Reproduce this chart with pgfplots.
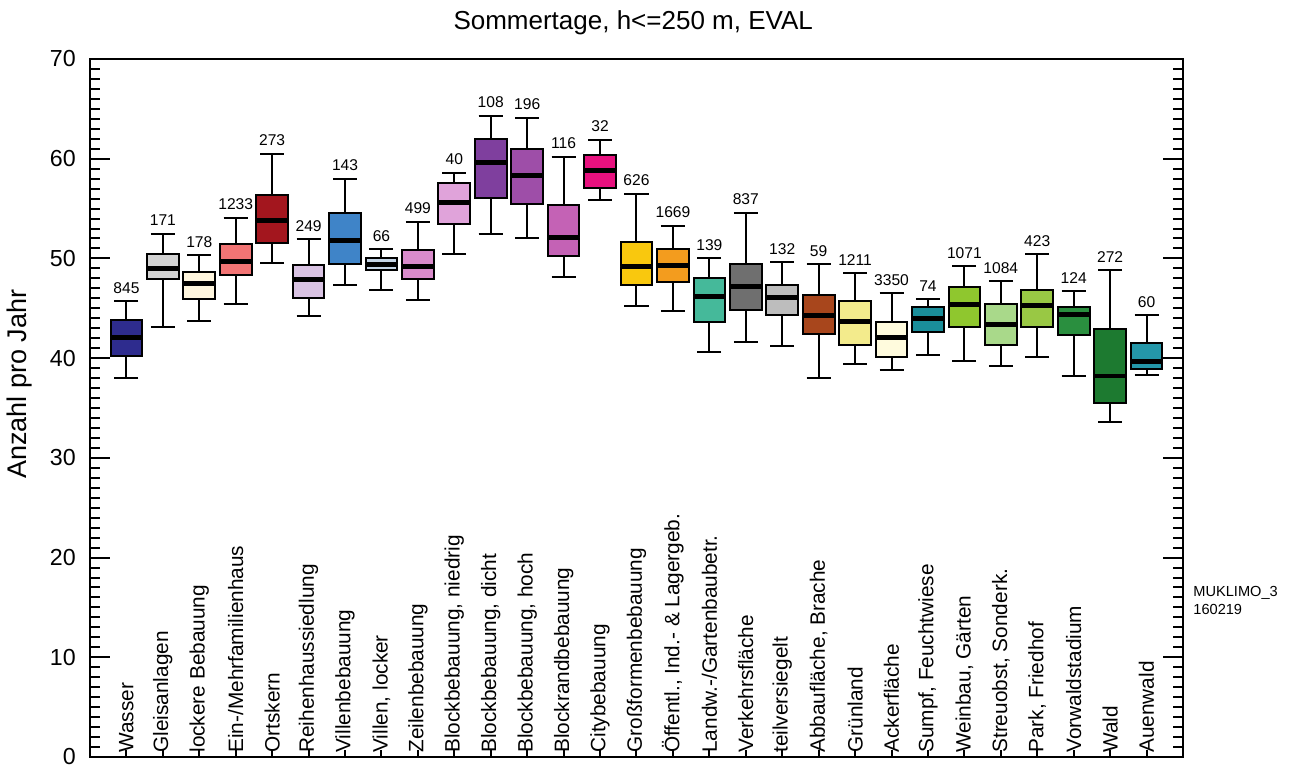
\documentclass[border=0pt]{standalone}
\usepackage{pgfplots}
\pgfplotsset{compat=1.18}
\usepgfplotslibrary{statistics}
\usepackage{pgfplotstable}
\usepackage{fontspec}
\setmainfont{Liberation Sans}

\definecolor{c0}{HTML}{2E2C8E}
\definecolor{c1}{HTML}{D3D3D3}
\definecolor{c2}{HTML}{FFF6DE}
\definecolor{c3}{HTML}{F27474}
\definecolor{c4}{HTML}{A3161E}
\definecolor{c5}{HTML}{D9C3E3}
\definecolor{c6}{HTML}{3F84C8}
\definecolor{c7}{HTML}{C5D5E6}
\definecolor{c8}{HTML}{D98BCB}
\definecolor{c9}{HTML}{E0A3DA}
\definecolor{c10}{HTML}{7F3F9E}
\definecolor{c11}{HTML}{9E4EA8}
\definecolor{c12}{HTML}{C462B5}
\definecolor{c13}{HTML}{E8117F}
\definecolor{c14}{HTML}{F9C80E}
\definecolor{c15}{HTML}{F39C1E}
\definecolor{c16}{HTML}{45B99A}
\definecolor{c17}{HTML}{6F6F6F}
\definecolor{c18}{HTML}{BDBDBD}
\definecolor{c19}{HTML}{A8461C}
\definecolor{c20}{HTML}{F3EB8C}
\definecolor{c21}{HTML}{FFFBDD}
\definecolor{c22}{HTML}{1A8E9A}
\definecolor{c23}{HTML}{8FC72E}
\definecolor{c24}{HTML}{A9D98A}
\definecolor{c25}{HTML}{99C844}
\definecolor{c26}{HTML}{2A8F3F}
\definecolor{c27}{HTML}{1D7A30}
\definecolor{c28}{HTML}{2497A9}

% count labels above the upper whiskers
\pgfplotstableread{
x top n
0 45.7 845
1 52.5 171
2 50.3 178
3 54.1 1233
4 60.5 273
5 51.9 249
6 58.0 143
7 50.9 66
8 53.7 499
9 58.6 40
10 64.3 108
11 64.1 196
12 60.2 116
13 61.9 32
14 56.5 626
15 53.3 1669
16 50.0 139
17 54.6 837
18 49.6 132
19 49.4 59
20 48.5 1211
21 46.5 3350
22 45.9 74
23 49.2 1071
24 47.7 1084
25 50.4 423
26 46.7 124
27 48.8 272
28 44.3 60
}\counts

\pgfplotsset{
  bp/.style n args={6}{boxplot prepared={draw position=#1, lower whisker=#2,
    lower quartile=#3, median=#4, upper quartile=#5, upper whisker=#6}},
}

\begin{document}
\begin{tikzpicture}
\begin{axis}[
  scale only axis,
  width=546.5pt, height=349pt,
  xmin=-1, xmax=29, ymin=0, ymax=70,
  axis line style={line width=1pt},
  tick align=inside,
  ytick={0,10,...,70},
  minor y tick num=9,
  ytick pos=both,
  yticklabel pos=left,
  major tick length=10pt,
  minor tick length=5pt,
  every tick/.style={black, line width=1pt},
  /pgf/number format/assume math mode=true,
  yticklabel style={font=\fontsize{11.6}{12}\selectfont, xshift=-3.6pt},
  xtick={0,...,28},
  xtick pos=left,
  xtick style={/pgfplots/major tick length=3.5pt},
  xticklabels={Wasser, Gleisanlagen, lockere Bebauung, Ein-/Mehrfamilienhaus,
    Ortskern, Reihenhaussiedlung, Villenbebauung, {Villen, locker},
    Zeilenbebauung, {Blockbebauung, niedrig}, {Blockbebauung, dicht},
    {Blockbebauung, hoch}, Blockrandbebauung, Citybebauung,
    Großformenbebauung, {Öffentl., Ind.- \& Lagergeb.},
    Landw.-/Gartenbaubetr., Verkehrsfläche, teilversiegelt,
    {Abbaufläche, Brache}, Grünland, Ackerfläche, {Sumpf, Feuchtwiese},
    {Weinbau, Gärten}, {Streuobst, Sonderk.}, {Park, Friedhof},
    Vorwaldstadium, Wald, Auenwald},
  xticklabel style={rotate=90, anchor=west, inner sep=2pt,
    font=\fontsize{10.4}{11}\selectfont},
  boxplot/draw direction=y,
  boxplot/box extend=0.87,
  boxplot/whisker extend=0.66,
  boxplot/every median/.style={line width=2.4pt},
  every axis plot/.append style={line width=1pt},
  clip=false,
]
\addplot+[bp={0}{38.0}{40.2}{42.1}{43.8}{45.7}, mark=none, solid, draw=black, fill=c0] coordinates {};
\addplot+[bp={1}{43.1}{47.9}{49.0}{50.4}{52.5}, mark=none, solid, draw=black, fill=c1] coordinates {};
\addplot+[bp={2}{43.7}{45.9}{47.5}{48.6}{50.3}, mark=none, solid, draw=black, fill=c2] coordinates {};
\addplot+[bp={3}{45.4}{48.3}{49.7}{51.4}{54.1}, mark=none, solid, draw=black, fill=c3] coordinates {};
\addplot+[bp={4}{49.5}{51.5}{53.8}{56.4}{60.5}, mark=none, solid, draw=black, fill=c4] coordinates {};
\addplot+[bp={5}{44.2}{46.0}{47.9}{49.3}{51.9}, mark=none, solid, draw=black, fill=c5] coordinates {};
\addplot+[bp={6}{47.3}{49.4}{51.8}{54.6}{58.0}, mark=none, solid, draw=black, fill=c6] coordinates {};
\addplot+[bp={7}{46.8}{48.8}{49.4}{50.0}{50.9}, mark=none, solid, draw=black, fill=c7] coordinates {};
\addplot+[bp={8}{45.8}{47.9}{49.2}{50.8}{53.7}, mark=none, solid, draw=black, fill=c8] coordinates {};
\addplot+[bp={9}{50.4}{53.5}{55.6}{57.6}{58.6}, mark=none, solid, draw=black, fill=c9] coordinates {};
\addplot+[bp={10}{52.5}{56.1}{59.6}{62.0}{64.3}, mark=none, solid, draw=black, fill=c10] coordinates {};
\addplot+[bp={11}{52.0}{55.5}{58.3}{61.0}{64.1}, mark=none, solid, draw=black, fill=c11] coordinates {};
\addplot+[bp={12}{48.1}{50.2}{52.1}{55.4}{60.2}, mark=none, solid, draw=black, fill=c12] coordinates {};
\addplot+[bp={13}{55.9}{57.1}{58.8}{60.4}{61.9}, mark=none, solid, draw=black, fill=c13] coordinates {};
\addplot+[bp={14}{45.2}{47.3}{49.2}{51.6}{56.5}, mark=none, solid, draw=black, fill=c14] coordinates {};
\addplot+[bp={15}{44.7}{47.6}{49.3}{50.9}{53.3}, mark=none, solid, draw=black, fill=c15] coordinates {};
\addplot+[bp={16}{40.6}{43.6}{46.2}{48.0}{50.0}, mark=none, solid, draw=black, fill=c16] coordinates {};
\addplot+[bp={17}{41.6}{44.8}{47.2}{49.4}{54.6}, mark=none, solid, draw=black, fill=c17] coordinates {};
\addplot+[bp={18}{41.2}{44.3}{46.1}{47.3}{49.6}, mark=none, solid, draw=black, fill=c18] coordinates {};
\addplot+[bp={19}{38.0}{42.4}{44.3}{46.3}{49.4}, mark=none, solid, draw=black, fill=c19] coordinates {};
\addplot+[bp={20}{39.4}{41.3}{43.7}{45.7}{48.5}, mark=none, solid, draw=black, fill=c20] coordinates {};
\addplot+[bp={21}{38.8}{40.1}{42.1}{43.6}{46.5}, mark=none, solid, draw=black, fill=c21] coordinates {};
\addplot+[bp={22}{40.3}{42.6}{44.0}{45.1}{45.9}, mark=none, solid, draw=black, fill=c22] coordinates {};
\addplot+[bp={23}{39.7}{43.1}{45.4}{47.1}{49.2}, mark=none, solid, draw=black, fill=c23] coordinates {};
\addplot+[bp={24}{39.2}{41.3}{43.4}{45.4}{47.7}, mark=none, solid, draw=black, fill=c24] coordinates {};
\addplot+[bp={25}{40.1}{43.1}{45.3}{46.8}{50.4}, mark=none, solid, draw=black, fill=c25] coordinates {};
\addplot+[bp={26}{38.2}{42.3}{44.4}{45.1}{46.7}, mark=none, solid, draw=black, fill=c26] coordinates {};
\addplot+[bp={27}{33.6}{35.5}{38.2}{42.9}{48.8}, mark=none, solid, draw=black, fill=c27] coordinates {};
\addplot+[bp={28}{38.3}{38.9}{39.7}{41.5}{44.3}, mark=none, solid, draw=black, fill=c28] coordinates {};
\addplot[only marks, mark=none, nodes near coords, point meta=explicit symbolic,
  nodes near coords style={anchor=south, inner sep=0pt, yshift=3.5pt,
    font=\fontsize{7.8}{8}\selectfont}]
  table[x=x, y=top, meta=n] {\counts};
\node[anchor=base, font=\fontsize{13}{14}\selectfont, yshift=14.75pt]
  at (rel axis cs:0.497,1) {Sommertage, h<=250 m, EVAL};
\node[xshift=-35pt, rotate=90, anchor=center, font=\fontsize{13.5}{14}\selectfont]
  at (rel axis cs:0,0.534) {Anzahl pro Jahr};
\node[xshift=5pt, anchor=north west, align=left, inner sep=0pt,
  font=\fontsize{7.3}{8.8}\selectfont]
  at (rel axis cs:1,0.245) {MUKLIMO\_3\\160219};
\end{axis}
\pgfresetboundingbox
\path (current axis.south west) ++(-45pt,-5pt) rectangle ++(649pt,383.5pt);
\end{tikzpicture}
\end{document}
